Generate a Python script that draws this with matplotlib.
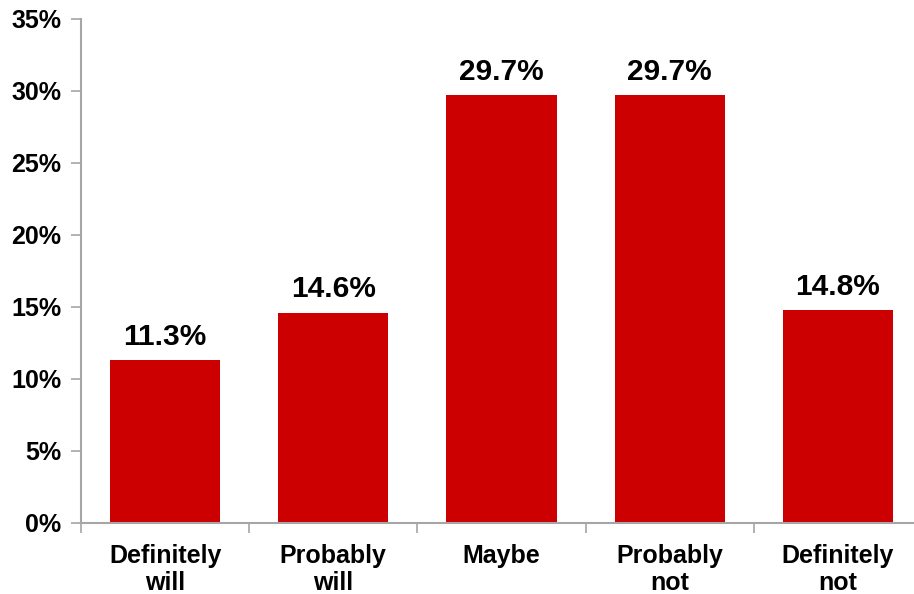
import matplotlib
matplotlib.use("Agg")
import matplotlib.pyplot as plt
from matplotlib.ticker import FuncFormatter

categories = ["Definitely\nwill", "Probably\nwill", "Maybe", "Probably\nnot", "Definitely\nnot"]
values = [11.3, 14.6, 29.7, 29.7, 14.8]
yticks = [0, 5, 10, 15, 20, 25, 30, 35]

plt.rcParams['font.family'] = ['Liberation Sans', 'DejaVu Sans']
W, H = 914, 594
fig = plt.figure(figsize=(W/100, H/100), dpi=100)
left, right, top, bottom = 81, 922, 19, 523
ax = fig.add_axes([left/W, 1-bottom/H, (right-left)/W, (bottom-top)/H])

x = list(range(len(categories)))
ax.bar(x, values, width=0.655, color="#CC0000")
for xi, v in zip(x, values):
    ax.text(xi, v + 0.65, f"{v:.1f}%", ha="center", va="bottom", fontsize=21.5, fontweight="bold")

ax.set_xlim(-0.5, len(categories) - 0.5)
ax.set_ylim(0, 35)
ax.set_yticks(yticks)
ax.yaxis.set_major_formatter(FuncFormatter(lambda v, p: f"{v:.0f}%"))
ax.set_xticks(x)
ax.set_xticklabels(categories, linespacing=1.15)
ax.set_xticks([i + 0.5 for i in range(-1, len(categories))], minor=True)
ax.tick_params(axis="x", which="major", length=0, pad=15, labelsize=18)
ax.tick_params(axis="x", which="minor", length=7, color="#A6A6A6", width=1.2)
ax.tick_params(axis="y", length=7, color="#A6A6A6", width=1.2, labelsize=18, pad=7)
for lab in ax.get_xticklabels() + ax.get_yticklabels():
    lab.set_fontweight("bold")
for s in ["top", "right"]:
    ax.spines[s].set_visible(False)
for s in ["left", "bottom"]:
    ax.spines[s].set_color("#A6A6A6")
    ax.spines[s].set_linewidth(1.5)

fig.savefig("out.png", dpi=100)
